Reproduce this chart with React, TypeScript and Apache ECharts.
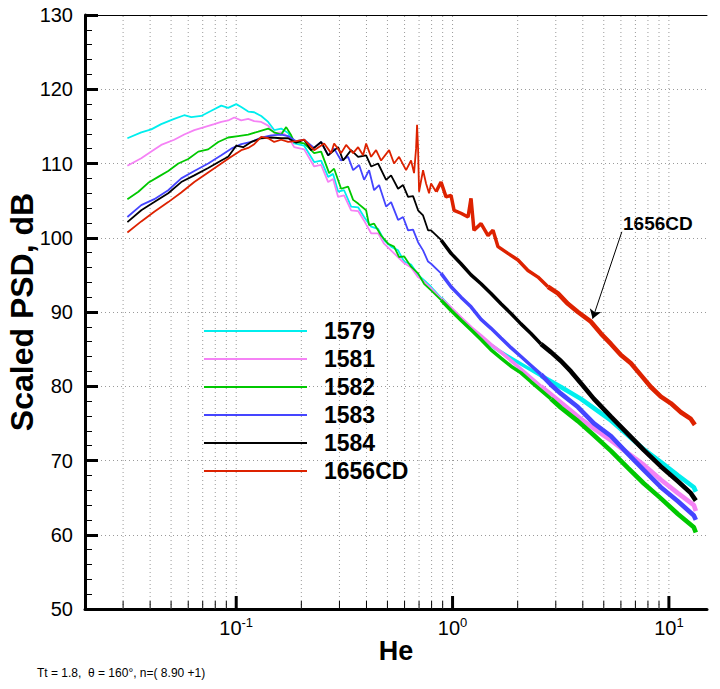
import React, { useEffect, useRef } from 'react';
import * as echarts from 'echarts';

const FONT = '"Liberation Sans", Arial, Helvetica, sans-serif';

const NAMES = ['1579', '1581', '1582', '1583', '1584', '1656CD'];
const COLORS = ['#00eeee', '#f582f5', '#00c800', '#4545ff', '#000000', '#dd2200'];

// [He, Scaled PSD dB]
const S1579 = [
  [0.0314, 113.4], [0.0364, 114.2], [0.0405, 114.6], [0.045, 115.3], [0.0517, 116.0], [0.0575, 116.5],
  [0.062, 116.25], [0.0689, 116.4], [0.0767, 117.1], [0.0853, 117.8], [0.0918, 117.5], [0.1, 118.0],
  [0.1055, 117.6], [0.1136, 117.0], [0.1211, 116.9], [0.1305, 116.4], [0.1405, 115.6], [0.1498, 114.5],
  [0.1614, 114.7], [0.1738, 114.1], [0.1853, 112.7], [0.2061, 112.4], [0.2292, 110.2], [0.2469, 110.4],
  [0.266, 108.2], [0.2805, 108.6], [0.2958, 106.2], [0.3153, 106.4], [0.3397, 104.2], [0.366, 104.1],
  [0.3901, 102.8], [0.4202, 101.5], [0.4527, 101.2], [0.4825, 99.7], [0.5198, 98.8], [0.56, 98.3],
  [0.5969, 96.8], [0.643, 96.4], [0.6927, 95.0], [0.7383, 94.3], [0.7954, 93.4], [0.8846, 91.9],
  [0.9839, 90.4], [1.094, 89.0], [1.217, 87.7], [1.354, 86.5], [1.674, 84.6], [2.071, 83.0],
  [2.562, 81.4], [3.169, 79.9], [3.92, 78.3], [5.394, 75.4], [6.463, 73.4], [7.661, 71.5],
  [9.179, 69.8], [11.0, 68.0], [13.04, 66.4], [13.32, 65.8],
];

const S1581 = [
  [0.0314, 109.7], [0.0364, 110.7], [0.0405, 111.6], [0.045, 112.5], [0.0517, 113.2], [0.0575, 113.9],
  [0.064, 114.5], [0.0712, 114.9], [0.0791, 115.3], [0.0853, 115.6], [0.0918, 115.8], [0.0979, 116.2],
  [0.1055, 115.8], [0.1136, 116.0], [0.1211, 115.7], [0.1305, 115.6], [0.1405, 115.1], [0.1498, 114.1],
  [0.1614, 114.2], [0.1738, 113.6], [0.1853, 112.2], [0.2061, 111.9], [0.2292, 109.6], [0.2469, 109.8],
  [0.266, 107.5], [0.2805, 107.9], [0.2958, 105.5], [0.3153, 105.7], [0.3397, 103.7], [0.366, 103.6],
  [0.3901, 102.3], [0.4202, 100.6], [0.4527, 100.6], [0.4825, 99.2], [0.5366, 97.9], [0.5969, 96.6],
  [0.643, 96.0], [0.6927, 94.7], [0.7383, 94.1], [0.7954, 93.2], [0.8846, 91.8], [0.9839, 90.5],
  [1.094, 89.2], [1.217, 87.9], [1.354, 86.8], [1.506, 85.6], [1.674, 84.6], [2.071, 82.3],
  [2.562, 80.0], [3.169, 77.8], [3.92, 75.6], [4.501, 74.3], [5.394, 72.7], [6.463, 71.0],
  [7.661, 69.4], [9.179, 67.4], [11.0, 65.6], [13.04, 64.0], [13.32, 63.2],
];

const S1582 = [
  [0.0314, 105.2], [0.0353, 106.2], [0.0392, 107.4], [0.0436, 108.2], [0.0485, 109.0], [0.054, 110.0],
  [0.06, 110.6], [0.0668, 111.6], [0.0742, 111.9], [0.0826, 112.9], [0.0918, 113.5], [0.1021, 113.7],
  [0.1136, 113.9], [0.1264, 114.3], [0.1405, 114.7], [0.1498, 114.2], [0.1614, 113.9], [0.1702, 114.9],
  [0.1795, 113.8], [0.1853, 112.9], [0.2061, 112.7], [0.2292, 111.4], [0.2469, 111.6], [0.2688, 108.7],
  [0.2835, 109.3], [0.3054, 106.6], [0.329, 106.9], [0.347, 105.1], [0.366, 104.6], [0.3985, 103.7],
  [0.4114, 101.7], [0.4338, 101.9], [0.4674, 100.3], [0.5035, 99.2], [0.5366, 98.8], [0.566, 97.4],
  [0.5969, 97.5], [0.643, 96.1], [0.6927, 95.2], [0.7383, 93.8], [0.7954, 92.9], [0.8846, 91.6],
  [0.9839, 90.2], [1.094, 88.9], [1.217, 87.6], [1.354, 86.3], [1.506, 84.9], [1.674, 83.8],
  [1.862, 82.7], [2.071, 81.8], [2.304, 80.6], [2.85, 78.3], [3.169, 77.1], [3.797, 75.3],
  [4.501, 73.4], [5.394, 71.3], [6.463, 69.0], [7.661, 66.9], [9.179, 64.9], [11.0, 62.8],
  [13.04, 61.0], [13.32, 60.3],
];

const S1583 = [
  [0.0314, 102.8], [0.0364, 104.4], [0.0418, 105.2], [0.0485, 106.4], [0.0557, 108.0], [0.064, 109.0],
  [0.0742, 110.0], [0.0853, 111.1], [0.0948, 112.0], [0.1055, 112.6], [0.1173, 112.9], [0.1305, 113.5],
  [0.1451, 113.8], [0.1614, 113.9], [0.1738, 113.7], [0.1893, 113.0], [0.2061, 113.2], [0.2292, 112.1],
  [0.2469, 112.9], [0.266, 111.1], [0.2835, 112.0], [0.3054, 110.4], [0.329, 110.9], [0.347, 109.1],
  [0.3699, 109.8], [0.3901, 107.8], [0.4114, 109.1], [0.4338, 106.4], [0.4575, 107.1], [0.4929, 104.2],
  [0.5198, 104.8], [0.56, 102.4], [0.5905, 102.8], [0.6228, 101.0], [0.6568, 101.1], [0.6927, 99.4],
  [0.7305, 98.3], [0.7704, 96.8], [0.7954, 96.5], [0.8846, 95.2], [0.9839, 93.4], [1.094, 92.0],
  [1.217, 90.7], [1.354, 89.0], [1.506, 87.8], [1.674, 86.5], [1.862, 85.2], [2.071, 84.0],
  [2.304, 82.8], [2.562, 81.6], [2.85, 80.2], [3.169, 79.0], [3.797, 77.2], [4.501, 75.0],
  [5.394, 73.3], [6.463, 70.9], [7.661, 68.7], [9.179, 66.4], [11.0, 64.5], [13.04, 62.6], [13.32, 62.0],
];

const S1584 = [
  [0.0314, 102.1], [0.0364, 103.7], [0.0418, 104.8], [0.0485, 106.0], [0.0557, 107.5], [0.064, 108.4],
  [0.0742, 109.4], [0.0853, 110.4], [0.0918, 110.9], [0.1, 112.4], [0.1077, 112.2], [0.1173, 112.9],
  [0.1305, 113.4], [0.1451, 113.5], [0.1614, 113.4], [0.1738, 113.4], [0.1893, 112.8], [0.2061, 113.2],
  [0.222, 111.8], [0.2469, 112.9], [0.266, 111.1], [0.2958, 112.2], [0.312, 110.4], [0.3397, 111.8],
  [0.366, 110.9], [0.3985, 111.1], [0.4202, 109.6], [0.4527, 110.0], [0.4929, 107.8], [0.5198, 108.4],
  [0.56, 106.6], [0.5905, 107.1], [0.6228, 105.5], [0.6568, 105.6], [0.6927, 103.7], [0.7305, 103.0],
  [0.7704, 101.0], [0.7954, 101.0], [0.8846, 99.7], [0.9839, 97.9], [1.094, 96.5], [1.217, 95.0],
  [1.354, 93.8], [1.506, 92.5], [1.674, 91.1], [1.862, 89.8], [2.071, 88.4], [2.304, 87.1],
  [2.562, 85.7], [2.85, 84.6], [3.169, 83.4], [3.525, 82.0], [3.92, 80.4], [4.501, 78.3],
  [5.394, 75.9], [6.463, 73.6], [7.661, 71.4], [9.179, 69.2], [11.0, 67.2], [12.63, 65.6], [13.32, 64.6],
];

const S1656CD = [
  [0.0314, 100.7], [0.0364, 102.2], [0.0418, 103.5], [0.0485, 104.8], [0.0557, 106.1], [0.064, 107.5],
  [0.0742, 108.8], [0.0853, 110.0], [0.0948, 110.9], [0.1055, 111.8], [0.1136, 112.1], [0.1211, 112.6],
  [0.1305, 113.6], [0.1405, 113.4], [0.1498, 112.9], [0.1614, 113.2], [0.1738, 112.9], [0.1893, 113.0],
  [0.2061, 113.2], [0.2292, 111.8], [0.2549, 112.7], [0.2746, 111.4], [0.2835, 112.7], [0.3054, 111.4],
  [0.3221, 112.5], [0.347, 111.4], [0.366, 112.2], [0.3859, 111.1], [0.3985, 112.7], [0.4202, 110.9],
  [0.4431, 111.8], [0.4674, 110.4], [0.5089, 111.8], [0.5366, 110.0], [0.566, 110.9], [0.6097, 109.1],
  [0.643, 110.4], [0.6638, 108.7], [0.6781, 112.0], [0.6854, 115.2], [0.6927, 112.0], [0.7001, 106.2],
  [0.7305, 109.1], [0.7542, 107.3], [0.7786, 106.0], [0.7954, 107.3], [0.8388, 106.2], [0.8846, 107.5],
  [0.9329, 105.5], [0.9839, 105.7], [1.016, 103.7], [1.094, 103.3], [1.179, 102.8], [1.217, 105.3],
  [1.256, 101.0], [1.354, 101.9], [1.459, 100.3], [1.538, 101.0], [1.622, 98.8], [1.803, 97.9],
  [2.006, 97.0], [2.231, 95.6], [2.482, 94.7], [2.76, 93.4], [3.07, 92.5], [3.414, 91.1],
  [3.797, 90.0], [4.36, 88.7], [4.85, 87.1], [5.394, 85.7], [5.999, 84.2], [6.672, 83.1],
  [7.421, 81.5], [8.253, 79.9], [9.179, 78.6], [10.21, 77.7], [11.36, 76.5], [12.63, 75.6], [13.18, 74.8],
];

const SERIES_DATA = [S1579, S1581, S1582, S1583, S1584, S1656CD];

const Y_MIN = 50;
const Y_MAX = 130;
const X_MIN = 0.02;
const X_MAX = 15;
const X_MINOR = [0.03, 0.04, 0.05, 0.06, 0.07, 0.08, 0.09, 0.2, 0.3, 0.4, 0.5, 0.6, 0.7, 0.8, 0.9, 2, 3, 4, 5, 6, 7, 8, 9];
const X_MAJOR = [0.1, 1, 10];

const ARROW_FROM = [6.06, 100.8];
const ARROW_TO = [4.44, 89.1];
const ANNOTATION = '1656CD';
const FOOTNOTE = 'Tt = 1.8,  \u03B8 = 160\u00B0, n=( 8.90 +1)';

// line width tiers by He range (noisy spectra look thicker at high He)
const TIERS: [number, number, number][] = [
  [0, 0.8, 1.8],
  [0.8, 2.5, 3.5],
  [2.5, 1000, 4.6],
];

function segment(data: number[][], lo: number, hi: number) {
  const s = data.findIndex((p) => p[0] >= lo);
  if (s < 0) return [];
  let e = data.length - 1;
  for (let i = 0; i < data.length; i++) {
    if (data[i][0] > hi) {
      e = i;
      break;
    }
  }
  return data.slice(s, e + 1);
}

export default function App() {
  const ref = useRef<HTMLDivElement>(null);

  useEffect(() => {
    if (!ref.current) return;
    const chart = echarts.init(ref.current, undefined, { renderer: 'svg' });

    const lineSeries: any[] = [];
    NAMES.forEach((name, i) => {
      TIERS.forEach(([lo, hi, w], k) => {
        const s: any = {
          type: 'line',
          name,
          data: segment(SERIES_DATA[i], lo, hi),
          showSymbol: false,
          symbol: 'none',
          silent: true,
          z: 3,
          lineStyle: { color: COLORS[i], width: w },
          itemStyle: { color: COLORS[i] },
        };
        if (name === '1656CD' && k === 2) {
          s.markLine = {
            silent: true,
            symbol: ['none', 'arrow'],
            symbolSize: 9,
            label: { show: false },
            lineStyle: { color: '#000', width: 1, type: 'solid' },
            data: [[{ coord: ARROW_FROM }, { coord: ARROW_TO }]],
          };
        }
        lineSeries.push(s);
      });
    });

    const gridData = [
      ...X_MINOR.map((v) => [v, Y_MIN, 0]),
      ...X_MAJOR.map((v) => [v, Y_MIN, 1]),
    ];

    const option: any = {
      animation: false,
      backgroundColor: '#fff',
      grid: { left: 85, right: 13, top: 15, bottom: 80, containLabel: false, outerBoundsMode: 'none' },
      legend: {
        data: NAMES,
        orient: 'vertical',
        left: 204,
        top: 319,
        padding: 0,
        icon: 'rect',
        itemWidth: 103,
        itemHeight: 2,
        itemGap: 4,
        selectedMode: false,
        textStyle: {
          fontFamily: FONT,
          fontSize: 23,
          fontWeight: 'bold',
          color: '#000',
          lineHeight: 24,
          padding: [0, 0, 0, 12],
        },
      },
      xAxis: [
        {
          type: 'log',
          logBase: 10,
          min: X_MIN,
          max: X_MAX,
          name: 'He',
          nameLocation: 'middle',
          nameGap: 28,
          nameMoveOverlap: false,
          nameTextStyle: { fontFamily: FONT, fontSize: 27, fontWeight: 'bold', color: '#000' },
          axisLine: { show: true, onZero: false, lineStyle: { color: '#000', width: 3 } },
          axisTick: { show: false },
          splitLine: { show: false },
          minorTick: { show: false },
          axisLabel: {
            margin: 7,
            formatter: (v: number) => {
              const l = Math.log10(v);
              const r = Math.round(l);
              if (Math.abs(l - r) > 1e-6) return '';
              return '{b|10}{s|' + r + '}';
            },
            rich: {
              b: { fontFamily: FONT, fontSize: 20, color: '#000', lineHeight: 24 },
              s: { fontFamily: FONT, fontSize: 13, color: '#000', lineHeight: 14, verticalAlign: 'top' },
            },
          },
        },
        {
          type: 'log',
          logBase: 10,
          min: X_MIN,
          max: X_MAX,
          position: 'top',
          axisLine: { show: true, onZero: false, lineStyle: { color: '#000', width: 1 } },
          axisTick: { show: false },
          axisLabel: { show: false },
          splitLine: { show: false },
        },
      ],
      yAxis: {
        type: 'value',
        min: Y_MIN,
        max: Y_MAX,
        interval: 10,
        name: 'Scaled PSD, dB',
        nameLocation: 'middle',
        nameRotate: 90,
        nameGap: 47,
        nameMoveOverlap: false,
        nameTextStyle: { fontFamily: FONT, fontSize: 32, fontWeight: 'bold', color: '#000' },
        axisLine: { show: true, lineStyle: { color: '#000', width: 3 } },
        axisTick: { show: true, inside: true, length: 13, lineStyle: { color: '#000', width: 3 } },
        minorTick: { show: true, splitNumber: 5, length: 7, lineStyle: { color: '#000', width: 1 } },
        axisLabel: { fontFamily: FONT, fontSize: 20, color: '#000', margin: 12 },
        splitLine: { show: true, lineStyle: { color: '#9a9a9a', width: 1, type: [1, 3] } },
      },
      graphic: [
        {
          type: 'text',
          left: 623,
          top: 214,
          style: { text: ANNOTATION, fontFamily: FONT, fontSize: 19, fontWeight: 'bold', fill: '#000' },
        },
        {
          type: 'text',
          left: 37,
          top: 667,
          style: { text: FOOTNOTE, fontFamily: FONT, fontSize: 12, fill: '#000' },
        },
      ],
      series: [
        {
          type: 'custom',
          silent: true,
          z: 1,
          encode: { x: 0, y: 1 },
          data: gridData,
          renderItem: (params: any, api: any) => {
            const v = api.value(0);
            const major = api.value(2) === 1;
            const b = api.coord([v, Y_MIN]);
            const t = api.coord([v, Y_MAX]);
            return {
              type: 'group',
              children: [
                {
                  type: 'line',
                  shape: { x1: b[0], y1: b[1], x2: t[0], y2: t[1] },
                  style: { stroke: '#9a9a9a', lineWidth: 1, lineDash: [1, 3] },
                },
                {
                  type: 'line',
                  shape: { x1: b[0], y1: b[1], x2: b[0], y2: b[1] - (major ? 13 : 8) },
                  style: { stroke: '#000', lineWidth: major ? 3 : 1 },
                },
              ],
            };
          },
        },
        ...lineSeries,
      ],
    };

    chart.setOption(option);
    return () => chart.dispose();
  }, []);

  return (
    <div
      ref={ref}
      style={{ position: 'fixed', left: 0, top: 0, width: 720, height: 689, background: '#fff' }}
    />
  );
}
